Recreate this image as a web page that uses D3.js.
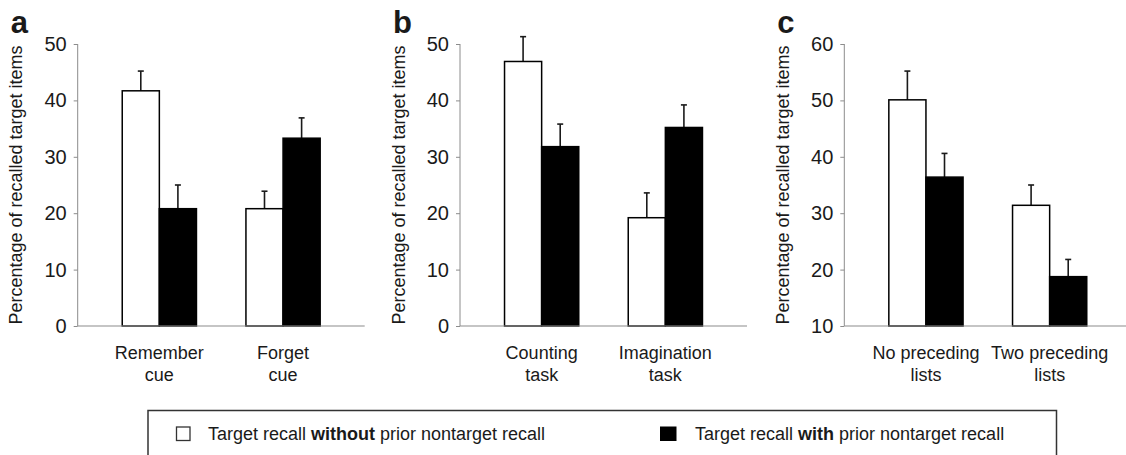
<!DOCTYPE html>
<html>
<head>
<meta charset="utf-8">
<script src="https://cdn.jsdelivr.net/npm/d3@7"></script>
<style>
  html, body { margin: 0; padding: 0; background: #fff; }
  svg { display: block; }
  text { font-family: "Liberation Sans", Arial, Helvetica, sans-serif; fill: #1a1a1a; }
</style>
</head>
<body>
<svg id="chart" width="1126" height="455"></svg>
<script>
// ---- Data ----
const panelLetters = ["a", "b", "c"];
const categoriesA = [["Remember", "cue"], ["Forget", "cue"]];
const categoriesB = [["Counting", "task"], ["Imagination", "task"]];
const categoriesC = [["No preceding", "lists"], ["Two preceding", "lists"]];

const withoutA = [41.7, 20.8];
const withoutErrA = [3.5, 3.1];
const withA = [20.8, 33.3];
const withErrA = [4.2, 3.6];

const withoutB = [46.9, 19.2];
const withoutErrB = [4.4, 4.4];
const withB = [31.8, 35.2];
const withErrB = [4.0, 4.0];

const withoutC = [50.1, 31.4];
const withoutErrC = [5.1, 3.6];
const withC = [36.4, 18.75];
const withErrC = [4.2, 3.05];

const yDomainA = [0, 50];
const yDomainB = [0, 50];
const yDomainC = [10, 60];
const yTicksA = [0, 10, 20, 30, 40, 50];
const yTicksB = [0, 10, 20, 30, 40, 50];
const yTicksC = [10, 20, 30, 40, 50, 60];

const yAxisTitle = "Percentage of recalled target items";
const seriesNames = ["without", "with"];
const legendLabels = [
  ["Target recall ", "without", " prior nontarget recall"],
  ["Target recall ", "with", " prior nontarget recall"]
];

// ---- Layout ----
const svg = d3.select("#chart");
const panels = [
  { letter: panelLetters[0], cats: categoriesA, vals: [withoutA, withA], errs: [withoutErrA, withErrA], dom: yDomainA, ticks: yTicksA, x0: 77.7 },
  { letter: panelLetters[1], cats: categoriesB, vals: [withoutB, withB], errs: [withoutErrB, withErrB], dom: yDomainB, ticks: yTicksB, x0: 460 },
  { letter: panelLetters[2], cats: categoriesC, vals: [withoutC, withC], errs: [withoutErrC, withErrC], dom: yDomainC, ticks: yTicksC, x0: 844.3 }
];
const plotW = 287, yTop = 44, yBot = 326;
const fills = ["#ffffff", "#000000"];

panels.forEach(p => {
  const g = svg.append("g").attr("transform", `translate(${p.x0},0)`);
  const y = d3.scaleLinear().domain(p.dom).range([yBot, yTop]);
  const x = d3.scaleBand().domain(d3.range(p.cats.length)).range([0, plotW]).paddingInner(0.4).paddingOuter(0.36);
  const xs = d3.scaleBand().domain(seriesNames).range([0, x.bandwidth()]).paddingInner(0).paddingOuter(0);

  // Y axis
  const yAxis = d3.axisLeft(y).tickValues(p.ticks).tickSize(4).tickPadding(7).tickFormat(d3.format("d"));
  const ag = g.append("g").call(yAxis);
  ag.select(".domain").attr("stroke", "#8c8c8c").attr("stroke-width", 1).attr("d", `M0,${yTop}V${yBot}`);
  ag.selectAll(".tick line").attr("stroke", "#8c8c8c");
  ag.selectAll(".tick text").attr("font-size", 20).attr("fill", "#1a1a1a")
    .style("font-family", '"Liberation Sans", Arial, sans-serif');

  // Bars
  p.cats.forEach((c, i) => {
    seriesNames.forEach((s, k) => {
      const v = p.vals[k][i], e = p.errs[k][i];
      const bx = x(i) + xs(s);
      const bw = xs.bandwidth();
      // error bar
      g.append("line").attr("x1", bx + bw / 2).attr("x2", bx + bw / 2)
        .attr("y1", y(v)).attr("y2", y(v + e)).attr("stroke", "#1a1a1a").attr("stroke-width", 1.6);
      g.append("line").attr("x1", bx + bw / 2 - 3).attr("x2", bx + bw / 2 + 3)
        .attr("y1", y(v + e)).attr("y2", y(v + e)).attr("stroke", "#1a1a1a").attr("stroke-width", 1.6);
      g.append("rect").attr("x", bx).attr("y", y(v)).attr("width", bw).attr("height", y(p.dom[0]) - y(v))
        .attr("fill", fills[k]).attr("stroke", "#000").attr("stroke-width", 1.5);
    });
    // Category label
    const t = g.append("text").attr("text-anchor", "middle").attr("font-size", 18)
      .attr("x", x(i) + x.bandwidth() / 2);
    c.forEach((line, li) => {
      t.append("tspan").attr("x", x(i) + x.bandwidth() / 2).attr("y", 359 + li * 21.5).text(line);
    });
  });

  // baseline
  g.append("line").attr("x1", 0).attr("x2", plotW).attr("y1", yBot).attr("y2", yBot)
    .attr("stroke", "#8c8c8c").attr("stroke-width", 1.2);

  // Y title
  g.append("text").attr("transform", `translate(-55.5,${(yTop + yBot) / 2}) rotate(-90)`)
    .attr("text-anchor", "middle").attr("font-size", 18).text(yAxisTitle);

  // Panel letter
  g.append("text").attr("x", -67).attr("y", 33).attr("font-size", 31).attr("font-weight", "bold")
    .attr("fill", "#000").text(p.letter);
});

// ---- Legend ----
const lg = svg.append("g");
lg.append("path").attr("d", "M148,458V410.5H1056.5V458").attr("fill", "none")
  .attr("stroke", "#333").attr("stroke-width", 1.5);
const legendPos = [{ sx: 176.5, tx: 208 }, { sx: 660.5, tx: 695 }];
legendLabels.forEach((parts, k) => {
  lg.append("rect").attr("x", legendPos[k].sx).attr("y", 427).attr("width", k === 0 ? 13.5 : 15.5).attr("height", 13.5)
    .attr("fill", fills[k]).attr("stroke", k === 0 ? "#333" : "#000").attr("stroke-width", k === 0 ? 1.3 : 1);
  const t = lg.append("text").attr("x", legendPos[k].tx).attr("y", 440).attr("font-size", 18);
  parts.forEach((s, j) => {
    t.append("tspan").attr("font-weight", j === 1 ? "bold" : "normal").text(s);
  });
});
</script>
</body>
</html>
